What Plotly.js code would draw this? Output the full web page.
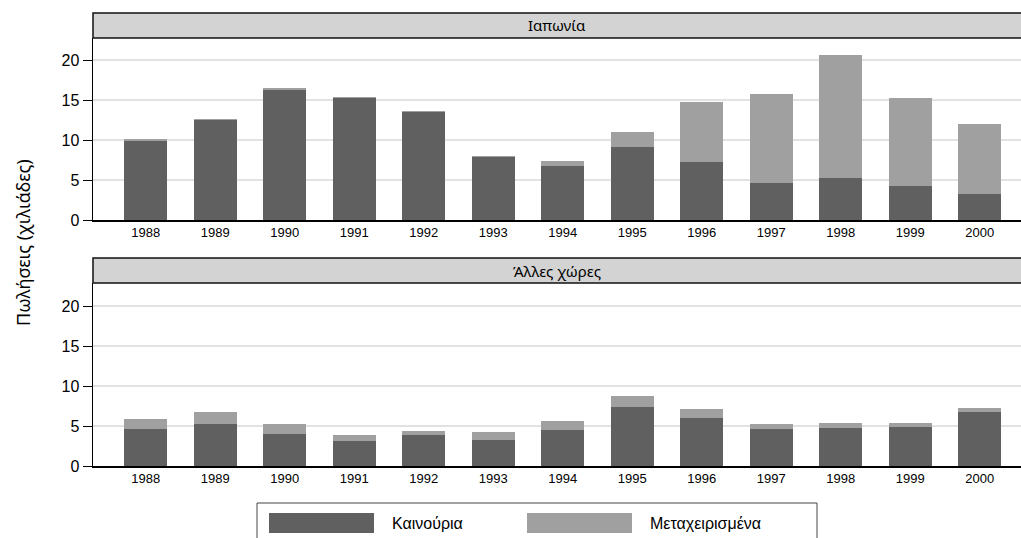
<!DOCTYPE html>
<html>
<head>
<meta charset="utf-8">
<script src="https://cdn.plot.ly/plotly-3.0.1.min.js"></script>
<style>html,body{margin:0;padding:0;background:#fff;}#chart{width:1021px;height:538px;}</style>
</head>
<body>
<div id="chart"></div>
<script>
// ---- data ----
const years = ['1988','1989','1990','1991','1992','1993','1994','1995','1996','1997','1998','1999','2000'];
const panelTitles = ['Ιαπωνία', 'Άλλες χώρες'];
const seriesNames = ['Καινούρια', 'Μεταχειρισμένα'];
const japanNew  = [9.9, 12.5, 16.25, 15.2, 13.5, 7.9, 6.8, 9.1, 7.25, 4.6, 5.25, 4.25, 3.25];
const japanUsed = [0.2, 0.12, 0.25, 0.2, 0.15, 0.15, 0.55, 1.9, 7.45, 11.2, 15.35, 11.0, 8.8];
const otherNew  = [4.6, 5.25, 4.0, 3.1, 3.83, 3.25, 4.46, 7.42, 5.96, 4.63, 4.75, 4.88, 6.75];
const otherUsed = [1.25, 1.55, 1.3, 0.73, 0.55, 1.05, 1.2, 1.38, 1.17, 0.62, 0.63, 0.5, 0.5];
const yTitle = 'Πωλήσεις (χιλιάδες)';

// ---- style ----
const W = 1021, H = 538;
const cDark = '#606060', cLight = '#a0a0a0';
const font = 'Liberation Sans, Arial, sans-serif';
const font2 = 'Noto Sans, Liberation Sans, sans-serif';
const px = x => x / W;
const py = y => 1 - y / H;

const traces = [
  {x: years, y: japanNew, type: 'bar', name: seriesNames[0], marker: {color: cDark}, xaxis: 'x', yaxis: 'y', showlegend: false},
  {x: years, y: japanUsed, type: 'bar', name: seriesNames[1], marker: {color: cLight}, xaxis: 'x', yaxis: 'y', showlegend: false},
  {x: years, y: otherNew, type: 'bar', name: seriesNames[0], marker: {color: cDark}, xaxis: 'x2', yaxis: 'y2', showlegend: false},
  {x: years, y: otherUsed, type: 'bar', name: seriesNames[1], marker: {color: cLight}, xaxis: 'x2', yaxis: 'y2', showlegend: false}
];

const xRange = [-0.758, 12.595];
function xax(anchor) {
  return {
    domain: [px(93), 1], anchor: anchor, type: 'category', range: xRange,
    showgrid: false, showline: true, linecolor: '#000', linewidth: 1.5,
    ticks: '', tickfont: {family: font, size: 13, color: '#000'},
    zeroline: false, automargin: false, fixedrange: true
  };
}
function yax(anchor, dom, top) {
  return {
    domain: dom, anchor: anchor, range: [0, top],
    tickvals: [0, 5, 10, 15, 20], ticktext: ['0','5','10','15','20'],
    showgrid: true, gridcolor: '#e2e2e2', gridwidth: 1.5,
    showline: true, linecolor: '#000', linewidth: 1.5,
    ticks: 'outside', ticklen: 9, tickcolor: '#000', tickwidth: 1,
    tickfont: {family: font, size: 16, color: '#000'},
    zeroline: false, automargin: false, fixedrange: true
  };
}

const shapes = [];
const annotations = [];
// strips
[[13, 38, panelTitles[0]], [258, 283, panelTitles[1]]].forEach(([t, b, txt]) => {
  shapes.push({type: 'rect', xref: 'paper', yref: 'paper', x0: px(93), x1: 1.02, y0: py(b), y1: py(t),
               fillcolor: '#d3d3d3', line: {color: '#111', width: 1.5}, layer: 'above'});
  annotations.push({xref: 'paper', yref: 'paper', x: px(557), y: py((t + b) / 2), text: txt, showarrow: false,
                    xanchor: 'center', yanchor: 'middle', font: {family: font2, size: 15, color: '#000'}});
});
// y title
annotations.push({xref: 'paper', yref: 'paper', x: px(23), y: py(243), text: yTitle, textangle: -90, showarrow: false,
                  xanchor: 'center', yanchor: 'middle', font: {family: font2, size: 18, color: '#000'}});
// legend box
shapes.push({type: 'rect', xref: 'paper', yref: 'paper', x0: px(257), x1: px(817), y0: py(545), y1: py(503),
             fillcolor: 'rgba(0,0,0,0)', line: {color: '#444', width: 1}});
[[269, cDark, 390, seriesNames[0]], [527, cLight, 648, seriesNames[1]]].forEach(([sx, col, tx, name]) => {
  shapes.push({type: 'rect', xref: 'paper', yref: 'paper', x0: px(sx), x1: px(sx + 105), y0: py(533), y1: py(513),
               fillcolor: col, line: {width: 0}});
  annotations.push({xref: 'paper', yref: 'paper', x: px(tx), y: py(523), text: name, showarrow: false,
                    xanchor: 'left', yanchor: 'middle', font: {family: font, size: 16, color: '#000'}});
});

const layout = {
  width: W, height: H,
  margin: {l: 0, r: 0, t: 0, b: 0, pad: 0},
  paper_bgcolor: '#fff', plot_bgcolor: '#fff',
  barmode: 'stack', bargap: 0.38,
  showlegend: false,
  font: {family: font, color: '#000'},
  xaxis: xax('y'),
  yaxis: yax('x', [py(220), py(38)], 22.75),
  xaxis2: xax('y2'),
  yaxis2: yax('x2', [py(466), py(283)], 22.875),
  shapes: shapes,
  annotations: annotations
};

Plotly.newPlot('chart', traces, layout, {staticPlot: true, displayModeBar: false});
</script>
</body>
</html>
